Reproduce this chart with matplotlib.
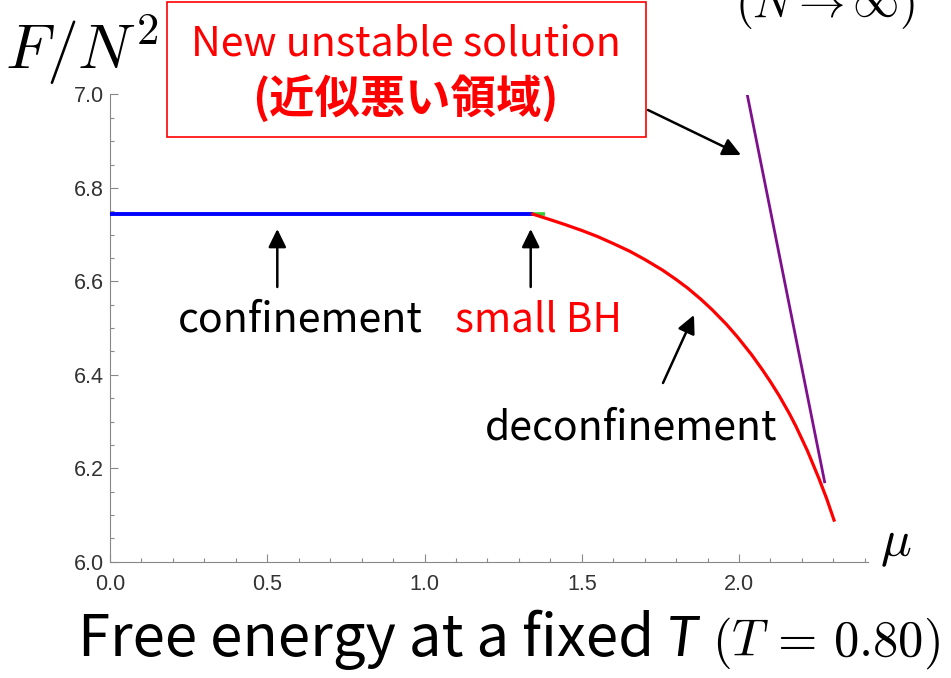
import matplotlib
matplotlib.use("Agg")
import matplotlib.pyplot as plt
from matplotlib.patches import FancyArrowPatch, Rectangle
from matplotlib.ticker import MultipleLocator

# ---------------- data ----------------
mu_conf = [0.0, 1.345]
F_conf = [6.744, 6.744]

mu_green = [1.340, 1.382]
F_green = [6.745, 6.745]

mu_deconf = [1.344, 1.40, 1.445, 1.50, 1.55, 1.60, 1.651, 1.70, 1.757, 1.80,
             1.836, 1.88, 1.915, 1.96, 1.995, 2.04, 2.074, 2.10, 2.127, 2.16,
             2.18, 2.217, 2.254, 2.278, 2.302]
F_deconf = [6.744, 6.732, 6.722, 6.709, 6.696, 6.681, 6.665, 6.647, 6.624, 6.604,
            6.586, 6.561, 6.539, 6.508, 6.481, 6.443, 6.411, 6.385, 6.356, 6.317,
            6.291, 6.238, 6.178, 6.136, 6.089]

mu_unstable = [2.026, 2.148, 2.272]
F_unstable = [7.0, 6.589, 6.171]

xticks = [0.0, 0.5, 1.0, 1.5, 2.0]
yticks = [6.0, 6.2, 6.4, 6.6, 6.8, 7.0]

W, H = 951, 678
LATIN = "Noto Sans CJK JP"

fig = plt.figure(figsize=(W / 100, H / 100), dpi=100)
fig.patch.set_facecolor("white")
renderer = fig.canvas.get_renderer()


def P(px, py):
    return (px / W, 1 - py / H)


def fit(t, target_w):
    w = t.get_window_extent(renderer).width
    t.set_fontsize(t.get_fontsize() * target_w / w)
    return t


# ---------------- axes ----------------
ax = fig.add_axes([110 / W, 1 - 561.7 / H, (868 - 110) / W, (561.7 - 94.5) / H])
ax.set_xlim(0, 2.41)
ax.set_ylim(6.0, 7.0)
for s in ["top", "right"]:
    ax.spines[s].set_visible(False)
for s in ["left", "bottom"]:
    ax.spines[s].set_color("#888888")
    ax.spines[s].set_linewidth(0.8)

ax.set_xticks(xticks)
ax.set_yticks(yticks)
ax.set_xticklabels([f"{v:.1f}" for v in xticks])
ax.set_yticklabels([f"{v:.1f}" for v in yticks])
ax.xaxis.set_minor_locator(MultipleLocator(0.1))
ax.yaxis.set_minor_locator(MultipleLocator(0.05))
ax.tick_params(which="both", direction="in", color="#888888", width=0.8,
               labelcolor="#333333", labelsize=15.5)
ax.tick_params(which="major", length=5.5)
ax.tick_params(which="minor", length=2.7)
ax.tick_params(axis="x", pad=8.5)
ax.tick_params(axis="y", pad=4.3)
for lab in ax.get_xticklabels() + ax.get_yticklabels():
    lab.set_family("Liberation Sans")

ax.plot(mu_green, F_green, color="#33cc33", lw=2.6, solid_capstyle="butt", zorder=2)
ax.plot(mu_conf, F_conf, color="#0000ff", lw=2.8, solid_capstyle="butt", zorder=3)
ax.plot(mu_deconf, F_deconf, color="#ff0000", lw=2.3, zorder=3)
ax.plot(mu_unstable, F_unstable, color="#7f0f8f", lw=2.0, zorder=3)

# ---------------- texts ----------------
t = fig.text(*P(5, 69), r"$F/N^2$", math_fontfamily="cm", fontsize=30,
             ha="left", va="baseline")
fit(t, 155)
t = fig.text(*P(735, 17), r"$(N\rightarrow\infty)$", math_fontfamily="cm",
             fontsize=30, ha="left", va="baseline")
fit(t, 180)
t = fig.text(*P(880, 556), r"$\mu$", math_fontfamily="cm", fontsize=30,
             ha="left", va="baseline")
fit(t, 32)

t = fig.text(*P(178, 332), "confinement", family=LATIN, fontsize=28,
             ha="left", va="baseline", color="black")
fit(t, 245)
t = fig.text(*P(455, 332), "small BH", family=LATIN, fontsize=28,
             ha="left", va="baseline", color="#ff0000")
fit(t, 167)
t = fig.text(*P(485, 440), "deconfinement", family=LATIN, fontsize=28,
             ha="left", va="baseline", color="black")
fit(t, 292)

# red box
box = Rectangle(P(167, 137), (646 - 167) / W, (137 - 2) / H,
                transform=fig.transFigure, facecolor="white",
                edgecolor="#ff0000", lw=1.2, zorder=5)
fig.add_artist(box)
t = fig.text(*P(406, 55), "New unstable solution", family=LATIN, fontsize=28,
             ha="center", va="baseline", color="#ff0000", zorder=6)
fit(t, 430)
t = fig.text(*P(405, 99), "(近似悪い領域)", family=LATIN,
             fontweight="bold", fontsize=28, ha="center", va="center",
             color="#ff0000", zorder=6)
fit(t, 306)

# title
t1 = fig.text(*P(78, 656), "Free energy at a fixed", family=LATIN, fontsize=40,
              ha="left", va="baseline", color="black")
fit(t1, 577)
fs = t1.get_fontsize()
t2 = fig.text(*P(667, 656), "T", family="Lato", style="italic", fontsize=fs * 0.98,
              ha="left", va="baseline", color="black")
t3 = fig.text(*P(712, 656), r"$(T\,=\,0.80)$", math_fontfamily="cm", fontsize=36,
              ha="left", va="baseline", color="black")
fit(t3, 228)

# arrows
def arrow(p0, p1):
    a = FancyArrowPatch(P(*p0), P(*p1), transform=fig.transFigure,
                        arrowstyle="-|>,head_length=0.55,head_width=0.27",
                        mutation_scale=20, lw=1.8, color="black",
                        shrinkA=0, shrinkB=0, zorder=7)
    fig.add_artist(a)

arrow((277.3, 287), (277.3, 229))
arrow((530.7, 287), (530.7, 229))
arrow((663, 383), (694, 315))
arrow((648, 110), (741, 155))

fig.savefig("out.png", dpi=100, facecolor="white")
